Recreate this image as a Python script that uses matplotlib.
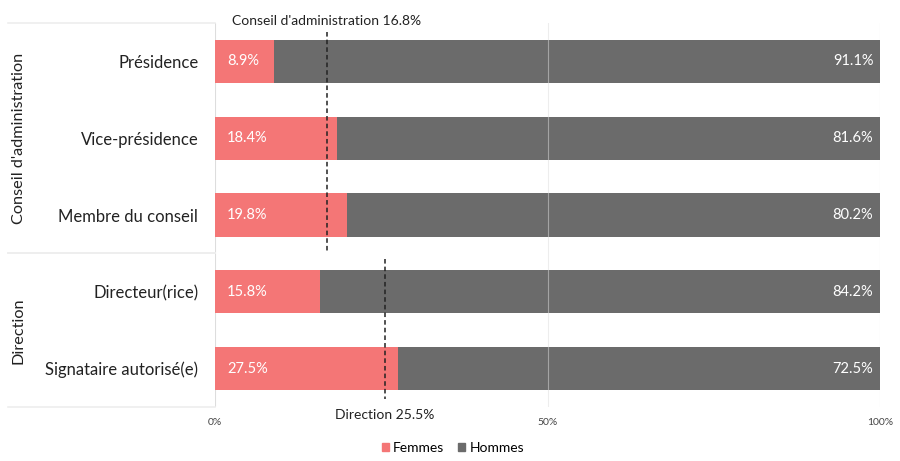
import matplotlib.pyplot as plt
import numpy as np

plt.rcParams['font.family'] = ['Lato', 'DejaVu Sans']

categories = ["Présidence", "Vice-présidence", "Membre du conseil",
              "Directeur(rice)", "Signataire autorisé(e)"]
femmes = [8.9, 18.4, 19.8, 15.8, 27.5]
hommes = [91.1, 81.6, 80.2, 84.2, 72.5]
groups = ["Conseil d'administration", "Direction"]
group_sizes = [3, 2]
group_avg = [16.8, 25.5]
ticks = [0, 50, 100]

c_f = "#f47676"
c_h = "#6b6b6b"
grid_c = "#dddddd"

W, H = 900, 461
fig = plt.figure(figsize=(W / 100, H / 100), dpi=100)
ax = fig.add_axes([215 / W, 1 - 407 / H, 665 / W, 384 / H])

y = np.arange(len(categories))
ax.barh(y, femmes, height=0.56, color=c_f, zorder=2)
ax.barh(y, hommes, left=femmes, height=0.56, color=c_h, zorder=2)

for i in range(len(categories)):
    ax.text(1.8, y[i], f"{femmes[i]}%", color="white", va="center", ha="left",
            fontsize=10.5, zorder=4)
    ax.text(99, y[i], f"{hommes[i]}%", color="white", va="center", ha="right",
            fontsize=10.5, zorder=4)

ax.set_xlim(0, 100)
ax.set_ylim(len(categories) - 0.5, -0.5)
for t in ticks:
    ax.axvline(t, color=grid_c, lw=0.8, zorder=1 if t != 50 else 3, alpha=1 if t != 50 else 0.5)
ax.set_xticks(ticks)
ax.set_xticklabels([f"{t}%" for t in ticks], fontsize=7.5, color="#444444")
ax.tick_params(axis="x", length=0, pad=8)
ax.set_yticks(y)
ax.set_yticklabels(categories, fontsize=12, color="#222222")
ax.tick_params(axis="y", length=0, pad=12)
for s in ax.spines.values():
    s.set_visible(False)

# group averages (dashed)
start = 0
for g, (name, n, avg) in enumerate(zip(groups, group_sizes, group_avg)):
    lo, hi = start - 0.38 if g == 0 else start - 0.43, start + n - 0.53 if g == 0 else start + n - 0.6
    ax.plot([avg, avg], [lo, hi], ls=(0, (3, 2)), color="#222222", lw=1.1, zorder=5)
    if g == 0:
        ax.text(avg, lo - 0.07, f"{name} {avg}%", ha="center", va="bottom",
                fontsize=10, color="#222222")
    else:
        ax.text(avg, hi + 0.12, f"{name} {avg}%", ha="center", va="top",
                fontsize=10, color="#222222", clip_on=False)
    start += n

# group labels and separator lines on the left
trans = ax.get_yaxis_transform()
x0 = (8 - 215) / 665
start = 0
for name, n in zip(groups, group_sizes):
    for yy in (start - 0.5, start + n - 0.5):
        ax.plot([x0, 0], [yy, yy], color="#eeeeee", lw=1.2, transform=trans, clip_on=False)
    ax.text((19 - 215) / 665, start + (n - 1) / 2, name, rotation=90, ha="center",
            va="center", fontsize=11.7, color="#222222", transform=trans)
    start += n

handles = [plt.Rectangle((0, 0), 1, 1, color=c_f), plt.Rectangle((0, 0), 1, 1, color=c_h)]
fig.legend(handles, ["Femmes", "Hommes"], loc="center", bbox_to_anchor=(453 / W, 1 - 448 / H),
           ncol=2, frameon=False, fontsize=10, handlelength=0.5, handleheight=0.5,
           handletextpad=0.3, columnspacing=1.0)

fig.savefig("out.png", dpi=100)
